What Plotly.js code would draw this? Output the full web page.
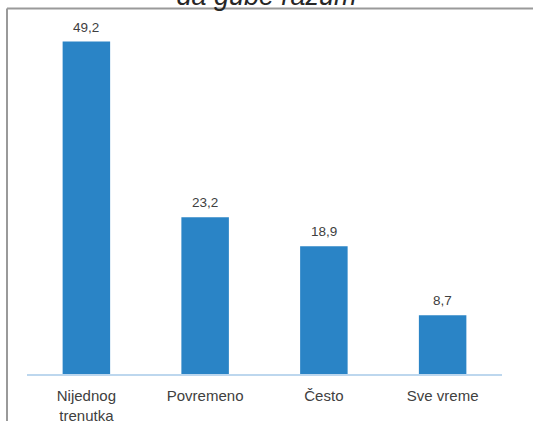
<!DOCTYPE html>
<html>
<head>
<meta charset="utf-8">
<script src="https://cdn.plot.ly/plotly-3.0.1.min.js"></script>
<style>html,body{margin:0;padding:0;background:#fff;}#chart{width:533px;height:421px;}</style>
</head>
<body>
<div id="chart"></div>
<script>
const categories = ["Nijednog<br>trenutka", "Povremeno", "Često", "Sve vreme"];
const values = [49.2, 23.2, 18.9, 8.7];
const valueLabels = ["49,2", "23,2", "18,9", "8,7"];
const titleText = "da gube razum";

const textColor = "#404040";
const barColor = "#2A84C6";

const trace = {
  type: "bar",
  x: categories,
  y: values,
  marker: {color: barColor},
  hoverinfo: "none"
};

const annotations = categories.map((c, i) => ({
  x: c, y: values[i], xref: "x", yref: "y",
  text: valueLabels[i], showarrow: false,
  yanchor: "bottom", yshift: 5,
  font: {family: "Liberation Sans, Arial, sans-serif", size: 13.5, color: textColor}
}));

const layout = {
  width: 533, height: 421,
  margin: {l: 27, r: 31, t: 22, b: 47},
  paper_bgcolor: "#ffffff", plot_bgcolor: "#ffffff",
  showlegend: false,
  bargap: 0.6,
  title: {
    text: titleText,
    x: 0.5, xref: "container", xanchor: "center",
    y: 0.988, yref: "container", yanchor: "bottom",
    font: {family: "Liberation Sans, Arial, sans-serif", size: 27, color: "#262626", style: "italic"}
  },
  xaxis: {
    type: "category",
    showline: true, linecolor: "#BDD7EE", linewidth: 2,
    showgrid: false, zeroline: false, ticks: "",
    ticklabelstandoff: 7,
    tickfont: {family: "Liberation Sans, Arial, sans-serif", size: 15, color: textColor},
    fixedrange: true
  },
  yaxis: {
    range: [0, 52.09],
    showline: false, showgrid: false, zeroline: false,
    showticklabels: false, ticks: "",
    fixedrange: true
  },
  annotations: annotations,
  shapes: [
    {type: "line", xref: "paper", yref: "paper", x0: -0.0421, x1: 1.07, y0: 1.0384, y1: 1.0384,
     line: {color: "#9A9A9A", width: 2}},
    {type: "line", xref: "paper", yref: "paper", x0: -0.0421, x1: -0.0421, y0: 1.0384, y1: -0.15,
     line: {color: "#9A9A9A", width: 2}}
  ]
};

Plotly.newPlot("chart", [trace], layout, {displayModeBar: false, staticPlot: true});
</script>
</body>
</html>
